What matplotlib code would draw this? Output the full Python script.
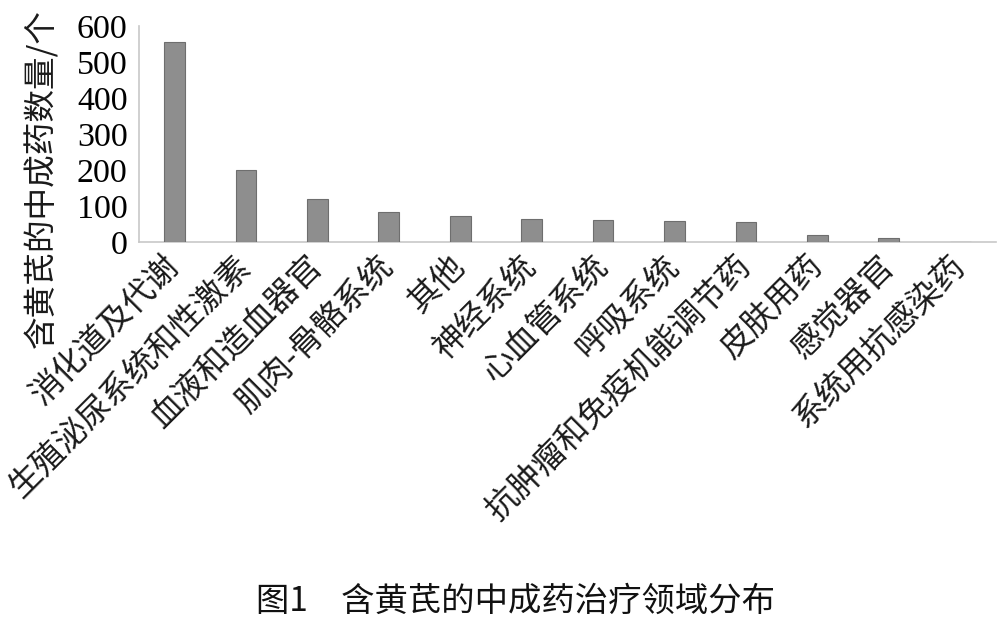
import matplotlib
matplotlib.use("Agg")
import matplotlib.pyplot as plt

categories = ["消化道及代谢", "生殖泌尿系统和性激素", "血液和造血器官", "肌肉-骨骼系统", "其他",
              "神经系统", "心血管系统", "呼吸系统", "抗肿瘤和免疫机能调节药", "皮肤用药",
              "感觉器官", "系统用抗感染药"]
values = [555, 200, 120, 83, 73, 63, 62, 58, 56, 20, 12, 1]
yticks = [0, 100, 200, 300, 400, 500, 600]
ylabel = "含黄芪的中成药数量/个"
caption = "图1　含黄芪的中成药治疗领域分布"

cjk = ["Noto Sans CJK SC", "DejaVu Sans"]
serif = ["Liberation Serif", "DejaVu Serif"]

fig = plt.figure(figsize=(9.98, 6.24), dpi=100)
ax = fig.add_axes([0.139, 1 - 242 / 624, 0.998 - 0.139, (242 - 26) / 624])

x = list(range(len(categories)))
ax.bar(x, values, width=0.29, color="#8e8e8e", edgecolor="#6e6e6e", linewidth=0.8, zorder=3)

ax.set_xlim(-0.5, len(categories) - 0.5)
ax.set_ylim(0, 600)
ax.set_yticks(yticks)
ax.set_yticklabels([str(v) for v in yticks], family=serif, fontsize=24.5)
ax.set_xticks(x)
ax.set_xticklabels(categories, rotation=45, ha="right", va="center",
                   rotation_mode="anchor", family=cjk, fontsize=23.5, color="#1a1a1a")
ax.tick_params(axis="x", length=0, pad=14)
ax.tick_params(axis="y", length=0, pad=8)

for s in ["top", "right"]:
    ax.spines[s].set_visible(False)
for s in ["left", "bottom"]:
    ax.spines[s].set_color("#c8c8c8")
    ax.spines[s].set_linewidth(1.2)

fig.text(41 / 998, 1 - 178 / 624, ylabel, rotation=90, ha="center", va="center",
         family=cjk, fontsize=23.5, color="#1a1a1a")
fig.text(515 / 998, 1 - 601 / 624, caption, ha="center", va="center",
         family=cjk, fontsize=24, color="#111111")

fig.savefig("out.png", dpi=100)
